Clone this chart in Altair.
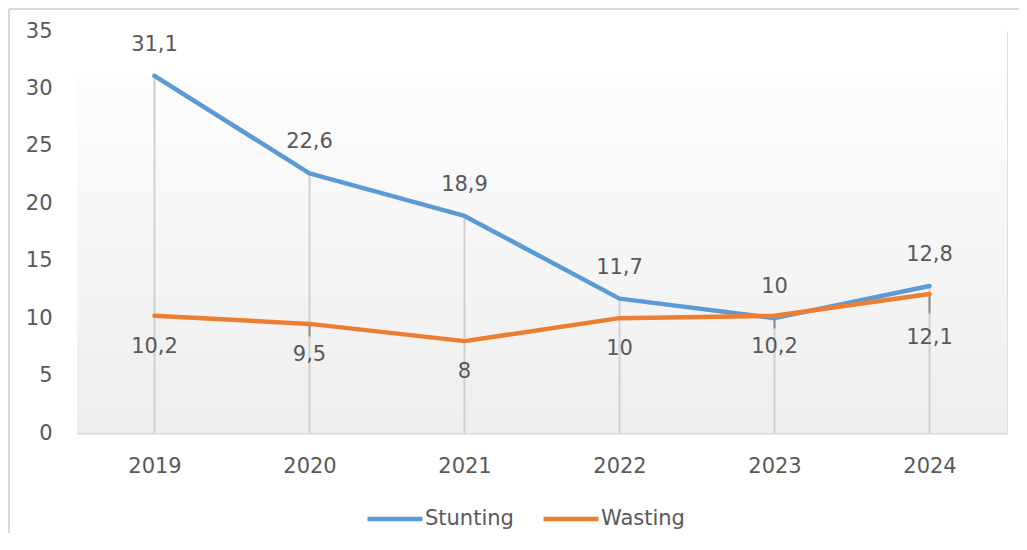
import altair as alt
import pandas as pd

years = ["2019", "2020", "2021", "2022", "2023", "2024"]
stunting = [31.1, 22.6, 18.9, 11.7, 10.0, 12.8]
wasting = [10.2, 9.5, 8.0, 10.0, 10.2, 12.1]
series_names = ["Stunting", "Wasting"]
series_colors = ["#5B9BD5", "#ED7D31"]
y_ticks = [0, 5, 10, 15, 20, 25, 30, 35]

# label leader lines (Excel style) for shifted labels
leader_years = ["2020", "2023", "2024"]
leader_end = [8.4, 9.1, 10.4]
# wasting labels pushed further down (Excel moved them to avoid overlap)
pushed_years = ["2024"]

FONT = "DejaVu Sans"
TXT = "#595959"
FS = 21
W, H = 930, 402


def fmt(v):
    return f"{v:g}".replace(".", ",")


rows = []
for y, s, w in zip(years, stunting, wasting):
    rows.append({"year": y, "series": "Stunting", "value": s, "label": fmt(s)})
    rows.append({"year": y, "series": "Wasting", "value": w, "label": fmt(w)})
df = pd.DataFrame(rows)

drop = pd.DataFrame({"year": years, "top": [max(s, w) for s, w in zip(stunting, wasting)], "zero": [0] * len(years)})
wmap = dict(zip(years, wasting))
lead = pd.DataFrame({"year": leader_years, "top": [wmap[y] for y in leader_years], "end": leader_end})

xs = alt.Scale(type="point", padding=0.5, domain=years)
ys = alt.Scale(domain=[0, 35], nice=False)

x_axis = alt.Axis(
    title=None, labelAngle=0, labelAlign="center", labelBaseline="top", ticks=False,
    domainColor="#d9d9d9", domainWidth=2,
    labelFontSize=FS, labelColor=TXT, labelFont=FONT, labelPadding=22)
y_axis = alt.Axis(
    title=None, values=y_ticks, grid=False, domain=False, ticks=False,
    labelFontSize=FS, labelColor=TXT, labelFont=FONT, labelPadding=25)


def X():
    return alt.X("year:O", scale=xs, axis=x_axis)


def Y(field):
    return alt.Y(f"{field}:Q", scale=ys, axis=y_axis)


bg = alt.Chart(pd.DataFrame({"a": [0]})).mark_rect(
    color=alt.LinearGradient(
        gradient="linear", x1=0, y1=0, x2=0, y2=1,
        stops=[alt.GradientStop(color="#ffffff", offset=0),
               alt.GradientStop(color="#ffffff", offset=0.11),
               alt.GradientStop(color="#fdfdfd", offset=0.12),
               alt.GradientStop(color="#eeeeee", offset=1)])
).encode(x=alt.value(0), x2=alt.value(W), y=alt.value(0), y2=alt.value(H))

border_top = alt.Chart(pd.DataFrame({"a": [0]})).mark_rule(color="#d9d9d9", strokeWidth=2).encode(
    x=alt.value(-68), x2=alt.value(960), y=alt.value(-22))
border_left = alt.Chart(pd.DataFrame({"a": [0]})).mark_rule(color="#d9d9d9", strokeWidth=2).encode(
    x=alt.value(-68), y=alt.value(-22), y2=alt.value(540))

drops = alt.Chart(drop).mark_rule(color="#d0d0d0", strokeWidth=2).encode(
    x=X(), y=Y("top"), y2="zero:Q")

leaders = alt.Chart(lead).mark_rule(color="#8c8c8c", strokeWidth=2).encode(
    x=X(), y=Y("top"), y2="end:Q")

lines = alt.Chart(df).mark_line(strokeWidth=4.5, strokeCap="round", strokeJoin="round").encode(
    x=X(), y=Y("value"),
    color=alt.Color("series:N", scale=alt.Scale(domain=series_names, range=series_colors),
                    legend=alt.Legend(title=None, orient="none", legendX=288, legendY=458,
                                      direction="horizontal", symbolType="stroke",
                                      symbolStrokeWidth=4.5, symbolSize=3025,
                                      labelFontSize=FS, labelColor=TXT, labelFont=FONT,
                                      labelOffset=0, columnPadding=20, padding=0)))

sdf = df[df.series == "Stunting"]
wdf = df[df.series == "Wasting"]
lab_s = alt.Chart(sdf).mark_text(
    dy=-31, fontSize=FS, font=FONT, color=TXT).encode(x=X(), y=Y("value"), text="label:N")
lab_w = alt.Chart(wdf[~wdf.year.isin(pushed_years)]).mark_text(
    dy=31, fontSize=FS, font=FONT, color=TXT).encode(x=X(), y=Y("value"), text="label:N")
lab_w2 = alt.Chart(wdf[wdf.year.isin(pushed_years)]).mark_text(
    dy=44, fontSize=FS, font=FONT, color=TXT).encode(x=X(), y=Y("value"), text="label:N")

chart = alt.layer(bg, border_top, border_left, drops, leaders, lines, lab_s, lab_w, lab_w2).properties(
    width=W, height=H,
    autosize=alt.AutoSizeParams(type="none"),
    padding={"left": 69, "top": 23, "right": 12, "bottom": 100},
).configure_view(stroke=None).configure(background="#ffffff")

chart.save("out.html", embed_options={"renderer": "svg", "actions": False})
